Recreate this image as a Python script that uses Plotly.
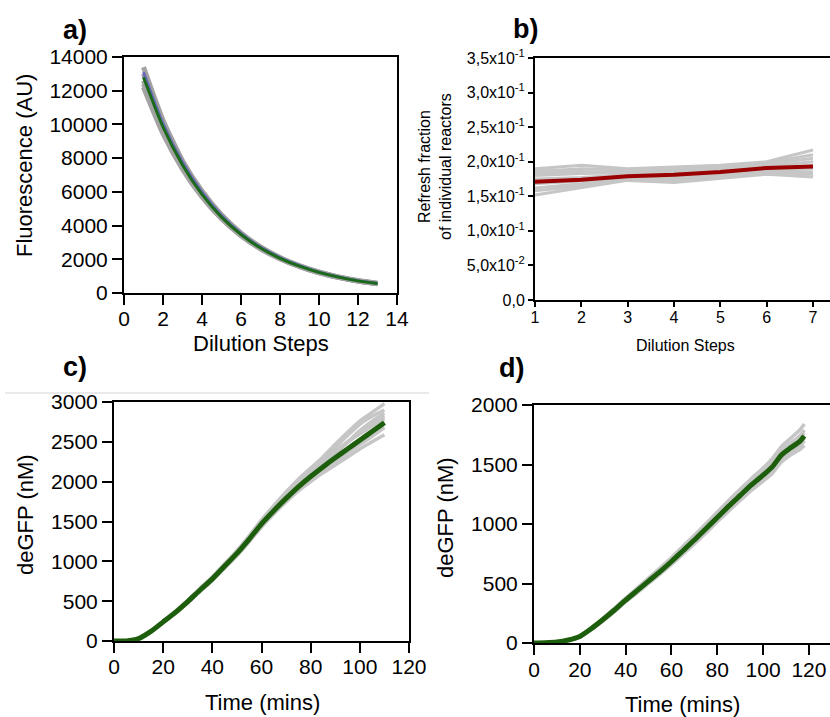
import plotly.graph_objects as go

# ---------------- data ----------------
# a) fluorescence decay over dilution steps
steps_a = list(range(1, 14))
fluor_mean = [12800, 9850, 7600, 5850, 4500, 3470, 2670, 2060, 1590, 1220, 940, 720, 560]
fluor_model = [13100, 10050, 7750, 5980, 4600, 3540, 2720, 2100, 1620, 1240, 955, 735, 570]
fluor_reps = [
    [13400, 10250, 7850, 6050, 4650, 3570, 2740, 2110, 1630, 1250, 960, 740, 575],
    [12200, 9450, 7350, 5700, 4400, 3400, 2620, 2030, 1570, 1200, 925, 710, 550],
    [12600, 9700, 7500, 5780, 4460, 3440, 2650, 2050, 1580, 1210, 935, 715, 555],
    [13000, 9980, 7680, 5900, 4540, 3500, 2690, 2080, 1600, 1230, 945, 725, 565],
    [12400, 9600, 7420, 5740, 4430, 3420, 2640, 2040, 1575, 1205, 930, 712, 552],
]

# b) refresh fraction of individual reactors
steps_b = [1, 2, 3, 4, 5, 6, 7]
refresh_mean = [0.171, 0.174, 0.179, 0.181, 0.185, 0.191, 0.193]
refresh_reps = [
    [0.190, 0.195, 0.190, 0.193, 0.195, 0.200, 0.217],
    [0.186, 0.190, 0.188, 0.190, 0.192, 0.198, 0.210],
    [0.183, 0.185, 0.186, 0.188, 0.190, 0.196, 0.205],
    [0.180, 0.183, 0.184, 0.185, 0.188, 0.193, 0.200],
    [0.175, 0.177, 0.181, 0.183, 0.186, 0.190, 0.195],
    [0.168, 0.172, 0.178, 0.179, 0.183, 0.188, 0.190],
    [0.162, 0.168, 0.176, 0.176, 0.180, 0.187, 0.185],
    [0.158, 0.165, 0.175, 0.173, 0.178, 0.185, 0.182],
    [0.152, 0.163, 0.173, 0.170, 0.176, 0.182, 0.178],
    [0.187, 0.186, 0.183, 0.186, 0.187, 0.192, 0.192],
]
refresh_ticks = [0, 0.05, 0.10, 0.15, 0.20, 0.25, 0.30, 0.35]
refresh_ticktext = ["0,0", "5,0x10<sup>-2</sup>", "1,0x10<sup>-1</sup>", "1,5x10<sup>-1</sup>",
                    "2,0x10<sup>-1</sup>", "2,5x10<sup>-1</sup>", "3,0x10<sup>-1</sup>",
                    "3,5x10<sup>-1</sup>"]

# c) deGFP expression, first condition
time_c = [0, 5, 10, 15, 20, 25, 30, 35, 40, 45, 50, 55, 60, 65, 70, 75, 80, 85, 90, 95, 100, 105, 110]
gfp_c_mean = [0, 0, 30, 120, 240, 360, 495, 640, 780, 940, 1100, 1280, 1470, 1635, 1790,
              1935, 2065, 2185, 2300, 2410, 2520, 2630, 2740]
gfp_c_reps = [
    [0, 0, 32, 125, 250, 375, 510, 660, 805, 970, 1135, 1320, 1520, 1700, 1870, 2030, 2170, 2310, 2470, 2620, 2760, 2870, 2980],
    [0, 0, 30, 122, 245, 368, 505, 652, 795, 958, 1122, 1305, 1500, 1675, 1845, 2000, 2140, 2270, 2430, 2580, 2720, 2820, 2900],
    [0, 0, 28, 118, 238, 358, 492, 636, 778, 935, 1095, 1275, 1465, 1640, 1800, 1955, 2090, 2220, 2360, 2490, 2620, 2720, 2820],
    [0, 0, 29, 119, 240, 362, 497, 641, 783, 942, 1103, 1283, 1474, 1645, 1805, 1955, 2075, 2195, 2310, 2420, 2530, 2640, 2750],
    [0, 0, 27, 115, 234, 353, 485, 627, 766, 924, 1082, 1258, 1446, 1612, 1768, 1912, 2030, 2145, 2250, 2360, 2465, 2570, 2680],
    [0, 0, 26, 112, 230, 348, 480, 620, 758, 914, 1070, 1245, 1430, 1595, 1745, 1885, 2000, 2110, 2210, 2310, 2410, 2500, 2590],
    [0, 0, 31, 121, 243, 365, 500, 646, 790, 950, 1112, 1295, 1490, 1665, 1830, 1985, 2110, 2240, 2370, 2500, 2640, 2760, 2860],
    [0, 0, 30, 120, 241, 361, 496, 642, 782, 941, 1101, 1282, 1472, 1650, 1815, 1975, 2120, 2250, 2380, 2500, 2600, 2700, 2790],
]

# d) deGFP expression, second condition
time_d = [0, 5, 10, 15, 20, 25, 30, 35, 40, 45, 50, 55, 60, 65, 70, 75, 80, 85, 90, 95, 100, 104, 108, 112, 116, 118]
gfp_d_mean = [0, 2, 8, 25, 55, 120, 195, 275, 360, 440, 520, 600, 685, 775, 865, 960, 1055,
              1150, 1240, 1330, 1410, 1480, 1580, 1640, 1695, 1740]
gfp_d_reps = [
    [0, 2, 9, 28, 60, 128, 206, 290, 378, 462, 545, 630, 718, 812, 905, 1002, 1100, 1198, 1292, 1385, 1470, 1550, 1650, 1720, 1790, 1840],
    [0, 2, 8, 26, 57, 123, 200, 282, 368, 450, 532, 614, 700, 792, 884, 980, 1076, 1172, 1265, 1356, 1440, 1515, 1615, 1680, 1740, 1790],
    [0, 2, 7, 23, 52, 116, 190, 268, 352, 430, 510, 588, 672, 760, 848, 940, 1034, 1128, 1216, 1304, 1382, 1450, 1545, 1605, 1655, 1700],
    [0, 1, 7, 22, 50, 112, 184, 262, 345, 422, 500, 578, 660, 746, 832, 924, 1018, 1110, 1198, 1285, 1360, 1425, 1520, 1580, 1625, 1660],
    [0, 2, 8, 25, 55, 121, 197, 278, 363, 445, 525, 606, 692, 784, 875, 972, 1066, 1162, 1254, 1345, 1425, 1500, 1598, 1660, 1718, 1765],
    [0, 2, 8, 24, 54, 118, 192, 272, 356, 436, 516, 594, 678, 768, 858, 952, 1046, 1140, 1230, 1320, 1398, 1468, 1565, 1625, 1680, 1720],
]

# ---------------- styling ----------------
W, H = 830, 717
FONT = "Arial, Liberation Sans, sans-serif"
GRAY_A = "#a3a3a3"
GRAY = "#c6c6c6"
GREEN = "#1d5e0c"
RED = "#9b0000"
BLUE = "#6a6ab8"


def px(x):
    return x / W


def py(y):
    return 1 - y / H


fig = go.Figure()


def add_line(x, y, color, width, xa, ya, shape="spline"):
    fig.add_trace(go.Scatter(x=x, y=y, mode="lines", xaxis=xa, yaxis=ya,
                             line=dict(color=color, width=width, shape=shape, smoothing=0.6),
                             showlegend=False, hoverinfo="skip"))


for rep in fluor_reps:
    add_line(steps_a, rep, GRAY_A, 5, "x", "y")
add_line(steps_a, fluor_model, BLUE, 3, "x", "y")
add_line(steps_a, fluor_mean, "#1a6a1a", 3, "x", "y")

for rep in refresh_reps:
    add_line(steps_b, rep, GRAY, 3, "x2", "y2", "linear")
add_line(steps_b, refresh_mean, RED, 4, "x2", "y2", "linear")

for rep in gfp_c_reps:
    add_line(time_c, rep, GRAY, 3.5, "x3", "y3")
add_line(time_c, gfp_c_mean, GREEN, 5, "x3", "y3")

for rep in gfp_d_reps:
    add_line(time_d, rep, GRAY, 3.5, "x4", "y4")
add_line(time_d, gfp_d_mean, GREEN, 5, "x4", "y4")

axis_common = dict(showgrid=False, zeroline=False, showline=True, linecolor="black",
                   linewidth=2, ticks="outside", ticklen=10, tickwidth=2, tickcolor="black",
                   automargin=False, tickformat="d", ticklabeloverflow="allow",
                   tickfont=dict(family=FONT, size=21, color="black"))
small_font = dict(family=FONT, size=16, color="black")

fig.update_layout(
    width=W, height=H, margin=dict(l=0, r=0, t=0, b=0, autoexpand=False),
    paper_bgcolor="white", plot_bgcolor="white",
    font=dict(family=FONT, color="black"),
    xaxis=dict(axis_common, domain=[px(124), px(397)], range=[0, 14], dtick=2,
               mirror=True, anchor="y", ticklabelstandoff=-4),
    yaxis=dict(axis_common, domain=[py(293), py(57)], range=[0, 14000], dtick=2000,
               mirror=True, anchor="x"),
    xaxis2=dict(axis_common, domain=[px(535), 1.0], range=[1, 7.367], ticklen=5,
                tickvals=steps_b, mirror=True, anchor="y2", tickfont=small_font,
                ticklabelstandoff=-3),
    yaxis2=dict(axis_common, domain=[py(300), py(58)], range=[0, 0.35], ticklen=5,
                tickvals=refresh_ticks, ticktext=refresh_ticktext, anchor="x2",
                tickfont=small_font),
    xaxis3=dict(axis_common, domain=[px(114), px(409)], range=[0, 120], dtick=20,
                mirror=True, anchor="y3", ticklabelstandoff=-4),
    yaxis3=dict(axis_common, domain=[py(641), py(402)], range=[0, 3000], dtick=500,
                mirror=True, anchor="x3"),
    xaxis4=dict(axis_common, domain=[px(534), 1.0], range=[0, 129.2],
                tickvals=[0, 20, 40, 60, 80, 100, 120], mirror=True, anchor="y4",
                ticklabelstandoff=-3),
    yaxis4=dict(axis_common, domain=[py(643), py(405)], range=[0, 2000], dtick=500,
                anchor="x4"),
)

annotations = [
    # panel letters
    dict(text="<b>a)</b>", x=px(75), y=py(30), size=27),
    dict(text="<b>b)</b>", x=px(525), y=py(29), size=27),
    dict(text="<b>c)</b>", x=px(75), y=py(367), size=27),
    dict(text="<b>d)</b>", x=px(511), y=py(368), size=27),
    # axis titles
    dict(text="Dilution Steps", x=px(261), y=py(344), size=22),
    dict(text="Fluorescence (AU)", x=px(24), y=py(166), size=22, angle=-90),
    dict(text="Dilution Steps", x=px(685), y=py(345), size=16),
    dict(text="Refresh fraction<br>of individual reactors", x=px(435), y=py(167), size=16,
         angle=-90),
    dict(text="Time (mins)", x=px(262), y=py(702), size=22),
    dict(text="deGFP (nM)", x=px(25), y=py(515), size=22, angle=-90),
    dict(text="Time (mins)", x=px(682), y=py(704), size=22),
    dict(text="deGFP (nM)", x=px(445), y=py(518), size=22, angle=-90),
]
for a in annotations:
    fig.add_annotation(text=a["text"], x=a["x"], y=a["y"], xref="paper", yref="paper",
                       xanchor="center", yanchor="middle", showarrow=False,
                       textangle=a.get("angle", 0),
                       font=dict(family=FONT, size=a["size"], color="black"))

# thin separator between the top and bottom rows on the left
fig.add_shape(type="line", xref="paper", yref="paper", x0=px(5), x1=px(429),
              y0=py(393), y1=py(393), line=dict(color="#d4d4d4", width=1))

fig.write_html("out.html")
